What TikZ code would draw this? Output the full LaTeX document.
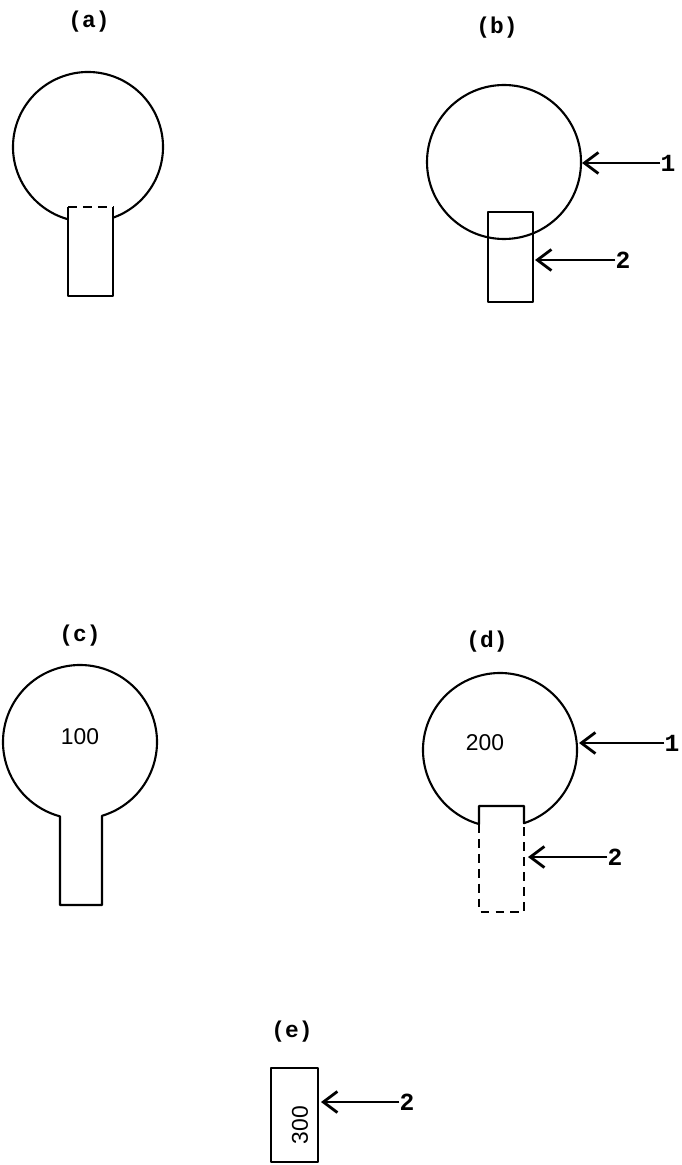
\documentclass[tikz,border=0pt]{standalone}
\usepackage{fontspec}
\setmainfont{Liberation Sans}
\setmonofont{Liberation Mono}
\usetikzlibrary{arrows.meta}
\tikzset{
  outl/.style={line width=1.2pt, line join=round},
  dsh/.style={outl, dash pattern=on 5pt off 3.5pt},
  ptr/.style={-{Straight Barb[length=8pt,width=12pt,line width=1.6pt]}, line width=1.6pt, shorten <=-1pt},
  tag/.style={font=\ttfamily\bfseries\fontsize{13}{15}\selectfont},
  num/.style={font=\ttfamily\bfseries\fontsize{14}{16}\selectfont, inner sep=1pt},
  val/.style={font=\fontsize{13}{15}\selectfont},
}
\begin{document}
\begin{tikzpicture}[x=0.02cm,y=-0.02cm]
\useasboundingbox (0,0) rectangle (681,1165);
% (a) bulb with stem, stem top dashed
\node[tag] (ta) at (89,22) {(a)};
\draw[outl] (68,207) -- (68,296) -- (113,296) -- (113,207);
\draw[dsh] (68,207) -- (113,207);
\draw[outl] (88,147) ++(70.5:75) arc[start angle=70.5, end angle=-254.5, radius=75];
% (b) full circle and box
\node[tag] (tb) at (497,28) {(b)};
\draw[outl] (504,162) circle[radius=77];
\draw[outl] (488,212) rectangle (533,302);
\coordinate (b1tip) at (582,163);
\coordinate (b2tip) at (535,260);
\node[num] (b1) at (668,163) {1};
\node[num] (b2) at (623,260) {2};
\draw[ptr] (b1) -- (b1tip);
\draw[ptr] (b2) -- (b2tip);
% (c) open stem
\node[tag] (tc) at (80,636) {(c)};
\node[val] (vc) at (80,737) {100};
\draw[outl] (80,742) ++(73.4:77) arc[start angle=73.4, end angle=-254.95, radius=77] -- (60,905) -- (102,905) -- cycle;
% (d) stem pushed in, old part dashed
\node[tag] (td) at (487,642) {(d)};
\node[val] (vd) at (485,743) {200};
\draw[outl] (500,750) ++(71.85:77) arc[start angle=71.85, end angle=-254.2, radius=77] -- (479,806) -- (524,806) -- cycle;
\draw[dsh] (479,824) -- (479,912) -- (524,912) -- (524,823);
\coordinate (d1tip) at (579,743);
\coordinate (d2tip) at (528,857);
\node[num] (d1) at (672,743) {1};
\node[num] (d2) at (615,857) {2};
\draw[ptr] (d1) -- (d1tip);
\draw[ptr] (d2) -- (d2tip);
% (e) box alone
\node[tag] (te) at (292,1032) {(e)};
\draw[outl] (271,1068) rectangle (318,1162);
\node[val, rotate=90] (ve) at (300,1125) {300};
\coordinate (e2tip) at (321,1102);
\node[num] (e2) at (407,1102) {2};
\draw[ptr] (e2) -- (e2tip);
\end{tikzpicture}
\end{document}
